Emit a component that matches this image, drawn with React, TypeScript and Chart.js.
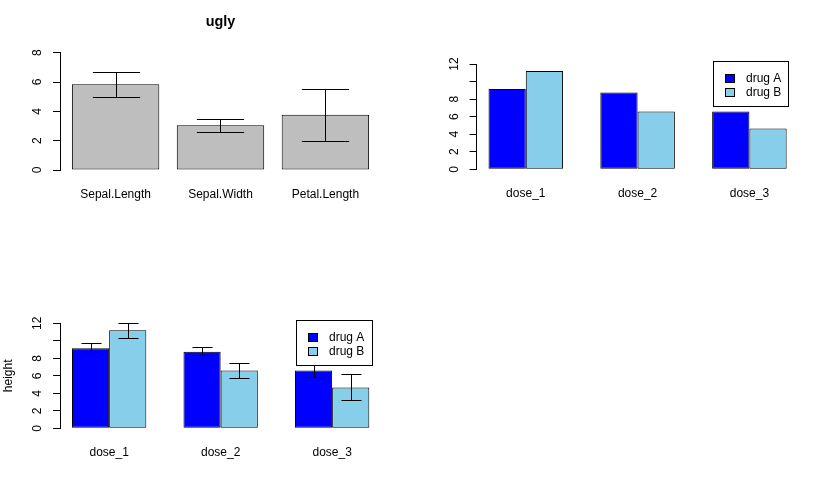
import React, { useEffect, useRef } from 'react';
import { Chart, registerables } from 'chart.js';

Chart.register(...registerables);

const FONT = '"Liberation Sans", Arial, Helvetica, sans-serif';

// ---- Panel 1: iris means with +/- sd error bars ----
const irisCategories = ['Sepal.Length', 'Sepal.Width', 'Petal.Length'];
const irisMeans = [5.84, 3.06, 3.76];
const irisLow = [5.01, 2.62, 1.99];
const irisHigh = [6.67, 3.49, 5.52];
const irisPositions = [0.7, 1.9, 3.1];
const irisTickLabels = ['0', '2', '4', '6', '8'];

// ---- Panels 2 & 3: dose x drug ----
const doseCategories = ['dose_1', 'dose_2', 'dose_3'];
const seriesNames = ['drug A', 'drug B'];
const drugA = [9.15, 8.75, 6.6];
const drugB = [11.2, 6.6, 4.65];
const drugALow = [8.57, 8.34, 5.9];
const drugAHigh = [9.71, 9.29, 7.31];
const drugBLow = [10.35, 5.75, 3.23];
const drugBHigh = [12.0, 7.43, 6.17];
const dosePositions = [2, 5, 8];
const doseTickLabels = ['0', '2', '4', '6', '8', '', '12'];

const GRAY = '#bebebe';
const BLUE = '#0000ff';
const SKY = '#87ceeb';

const errorBarPlugin = {
  id: 'errorBars',
  afterDatasetsDraw(chart: any, _args: any, opts: any) {
    if (!opts || !opts.bars) return;
    const { ctx } = chart;
    const yScale = chart.scales.y;
    ctx.save();
    ctx.strokeStyle = '#000';
    ctx.lineWidth = 1;
    opts.bars.forEach((ds: any, i: number) => {
      const meta = chart.getDatasetMeta(i);
      ds.low.forEach((lo: number, j: number) => {
        const el = meta.data[j];
        const x = Math.round(el.x) + 0.5;
        const half = el.width * opts.capRatio;
        const y1 = Math.round(yScale.getPixelForValue(lo)) + 0.5;
        const y2 = Math.round(yScale.getPixelForValue(ds.high[j])) + 0.5;
        ctx.beginPath();
        ctx.moveTo(x, y1);
        ctx.lineTo(x, y2);
        ctx.moveTo(x - half, y1);
        ctx.lineTo(x + half, y1);
        ctx.moveTo(x - half, y2);
        ctx.lineTo(x + half, y2);
        ctx.stroke();
      });
    });
    ctx.restore();
  },
};

const boxLegendPlugin = {
  id: 'boxLegend',
  afterDraw(chart: any, _args: any, opts: any) {
    if (!opts || !opts.show) return;
    const { ctx } = chart;
    const { x, y, w, h, firstRow, rowGap } = opts;
    ctx.save();
    ctx.fillStyle = '#fff';
    ctx.fillRect(x, y, w, h);
    ctx.strokeStyle = '#000';
    ctx.lineWidth = 1;
    ctx.strokeRect(x + 0.5, y + 0.5, w, h);
    ctx.font = `12px ${FONT}`;
    ctx.textBaseline = 'middle';
    ctx.textAlign = 'left';
    chart.data.datasets.forEach((ds: any, i: number) => {
      const cy = Math.round(y + firstRow + i * rowGap);
      ctx.fillStyle = ds.backgroundColor;
      ctx.fillRect(x + 12, cy - 5, 10, 9);
      ctx.strokeStyle = '#000';
      ctx.strokeRect(x + 12.5, cy - 4.5, 9, 8);
      ctx.fillStyle = '#000';
      ctx.fillText(ds.label, x + 33, cy);
    });
    ctx.restore();
  },
};

function yAxis(max: number, labels: string[], pad: number, width: number, title?: string) {
  return {
    type: 'linear',
    position: 'left',
    min: 0,
    max,
    ticks: {
      stepSize: 2,
      autoSkip: false,
      minRotation: 90,
      maxRotation: 90,
      crossAlign: 'center',
      padding: pad,
      color: '#000',
      font: { family: FONT, size: 12 },
      callback: (_v: any, i: number) => labels[i],
    },
    grid: { display: true, drawOnChartArea: false, drawTicks: true, tickLength: 7, color: '#000', lineWidth: 1 },
    border: { display: true, color: '#000', width: 1 },
    title: title
      ? { display: true, text: title, color: '#000', font: { family: FONT, size: 12 }, padding: { top: 1.5, bottom: 0 } }
      : { display: false },
    afterFit: (s: any) => {
      s.width = width;
    },
  };
}

function xAxis(min: number, max: number, positions: number[], labels: string[], height: number) {
  return {
    type: 'linear',
    position: 'bottom',
    min,
    max,
    bounds: 'data',
    offset: false,
    grid: { display: false, drawTicks: false },
    border: { display: false },
    ticks: {
      autoSkip: false,
      maxRotation: 0,
      minRotation: 0,
      padding: 17,
      color: '#000',
      font: { family: FONT, size: 12 },
      callback: (_v: any, i: number) => labels[i],
    },
    afterBuildTicks: (s: any) => {
      s.ticks = positions.map((v) => ({ value: v }));
    },
    afterFit: (s: any) => {
      s.height = height;
    },
  };
}

function buildPanel1() {
  return {
    type: 'bar',
    data: {
      datasets: [
        {
          label: 'mean',
          data: irisPositions.map((x, i) => ({ x, y: irisMeans[i] })),
          backgroundColor: GRAY,
          borderColor: '#000',
          borderWidth: 1,
          borderSkipped: false,
          categoryPercentage: 1,
          barPercentage: 1 / 1.2,
        },
      ],
    },
    options: {
      responsive: false,
      animation: false,
      devicePixelRatio: 1,
      events: [],
      layout: { padding: { left: 0, right: 60, top: 0, bottom: 0 } },
      scales: {
        x: xAxis(0.064, 3.736, irisPositions, irisCategories, 45),
        y: yAxis(8, irisTickLabels, 12, 60),
      },
      plugins: {
        legend: { display: false },
        tooltip: { enabled: false },
        title: {
          display: true,
          text: 'ugly',
          fullSize: false,
          color: '#000',
          font: { family: FONT, size: 14.4, weight: 'bold' },
          padding: { top: 13, bottom: 22.4 },
        },
        errorBars: {
          capRatio: 0.27,
          bars: [{ low: irisLow, high: irisHigh }],
        },
        boxLegend: { show: false },
      },
    },
    plugins: [errorBarPlugin, boxLegendPlugin],
  };
}

function doseDatasets() {
  return [
    {
      label: seriesNames[0],
      data: dosePositions.map((x, i) => ({ x, y: drugA[i] })),
      backgroundColor: BLUE,
      borderColor: '#000',
      borderWidth: 1,
      borderSkipped: false,
      categoryPercentage: 2 / 3,
      barPercentage: 1,
    },
    {
      label: seriesNames[1],
      data: dosePositions.map((x, i) => ({ x, y: drugB[i] })),
      backgroundColor: SKY,
      borderColor: '#000',
      borderWidth: 1,
      borderSkipped: false,
      categoryPercentage: 2 / 3,
      barPercentage: 1,
    },
  ];
}

function buildPanel2() {
  return {
    type: 'bar',
    data: { datasets: doseDatasets() },
    options: {
      responsive: false,
      animation: false,
      devicePixelRatio: 1,
      events: [],
      layout: { padding: { left: 0, right: 14.4, top: 64, bottom: 0 } },
      scales: {
        x: xAxis(0.68, 9.32, dosePositions, doseCategories, 45.7),
        y: yAxis(12, doseTickLabels, 8, 70.6),
      },
      plugins: {
        legend: { display: false },
        tooltip: { enabled: false },
        title: { display: false },
        errorBars: { bars: null },
        boxLegend: { show: true, x: 307, y: 61, w: 75, h: 45, firstRow: 17.5, rowGap: 14.8 },
      },
    },
    plugins: [errorBarPlugin, boxLegendPlugin],
  };
}

function buildPanel3() {
  return {
    type: 'bar',
    data: { datasets: doseDatasets() },
    options: {
      responsive: false,
      animation: false,
      devicePixelRatio: 1,
      events: [],
      layout: { padding: { left: 0, right: 59.8, top: 63.3, bottom: 0 } },
      scales: {
        x: xAxis(0.68, 9.32, dosePositions, doseCategories, 75.7),
        y: yAxis(12, doseTickLabels, 8.3, 60.1, 'height'),
      },
      plugins: {
        legend: { display: false },
        tooltip: { enabled: false },
        title: { display: false },
        errorBars: {
          capRatio: 0.27,
          bars: [
            { low: drugALow, high: drugAHigh },
            { low: drugBLow, high: drugBHigh },
          ],
        },
        boxLegend: { show: true, x: 296, y: 60, w: 76, h: 45, firstRow: 17.5, rowGap: 14.8 },
      },
    },
    plugins: [errorBarPlugin, boxLegendPlugin],
  };
}

function ChartPanel(props: { left: number; top: number; width: number; height: number; build: () => any }) {
  const ref = useRef<HTMLCanvasElement>(null);
  useEffect(() => {
    const chart = new Chart(ref.current as HTMLCanvasElement, props.build());
    return () => chart.destroy();
  }, []);
  return (
    <canvas
      ref={ref}
      width={props.width}
      height={props.height}
      style={{ position: 'absolute', left: props.left, top: props.top, width: props.width, height: props.height }}
    />
  );
}

export default function App() {
  return (
    <div style={{ position: 'absolute', left: 0, top: 0, width: 813, height: 504, background: '#fff', overflow: 'hidden' }}>
      <ChartPanel left={0} top={0} width={441} height={215} build={buildPanel1} />
      <ChartPanel left={406} top={0} width={407} height={215} build={buildPanel2} />
      <ChartPanel left={0} top={260} width={441} height={244} build={buildPanel3} />
    </div>
  );
}
